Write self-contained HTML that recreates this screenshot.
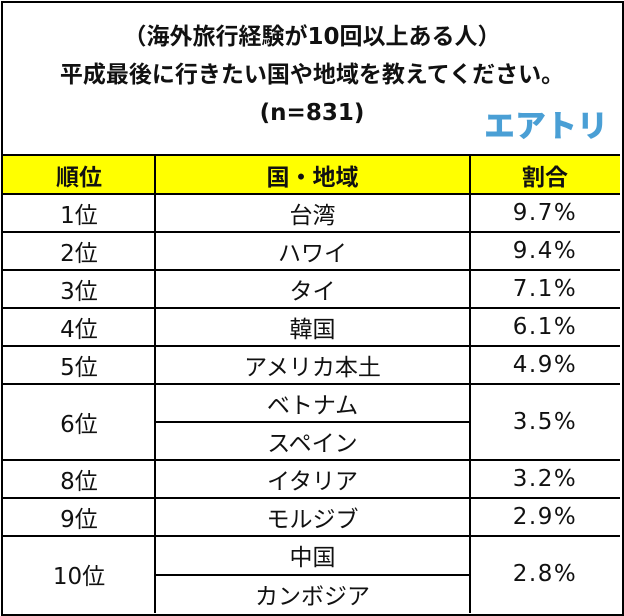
<!DOCTYPE html>
<html><head><meta charset="utf-8">
<style>
html,body{margin:0;padding:0;background:#fff;}
body{width:624px;height:616px;position:relative;overflow:hidden;font-family:"DejaVu Sans","Noto Sans CJK JP",sans-serif;color:#111;}
.frame{position:absolute;left:1px;top:1px;width:619px;height:611px;border:2px solid #000;}
.t{position:absolute;left:0;width:624px;text-align:center;font-weight:bold;font-size:23px;line-height:30px;}
.logo{position:absolute;left:484px;top:101px;font-size:31px;font-weight:900;color:#4a9fd5;letter-spacing:0px;font-family:"Noto Sans CJK JP",sans-serif;}
.c{position:absolute;display:flex;align-items:center;justify-content:center;font-size:23px;box-sizing:border-box;}
.s{letter-spacing:1.5px;}
.hl{position:absolute;background:#000;height:2px;}
.vl{position:absolute;background:#000;width:2px;}
</style></head><body>
<div class="frame"></div>
<div class="t" style="top:22px">（海外旅行経験が10回以上ある人）</div>
<div class="t" style="top:60px">平成最後に行きたい国や地域を教えてください。</div>
<div class="t" style="top:98px">(n=831)</div>
<div class="logo">エアトリ</div>
<div style="position:absolute;left:3px;top:155px;width:617px;height:38px;background:#ffff00"></div>
<div class="c" style="left:3px;top:155px;width:152px;height:39px;font-weight:bold">順位</div>
<div class="c" style="left:155px;top:155px;width:315px;height:39px;font-weight:bold">国・地域</div>
<div class="c" style="left:470px;top:155px;width:150px;height:39px;font-weight:bold">割合</div>
<div id="rows"></div>
<script>
const ranks=["1位","2位","3位","4位","5位","6位","8位","9位","10位"];
const countries=[["台湾"],["ハワイ"],["タイ"],["韓国"],["アメリカ本土"],["ベトナム","スペイン"],["イタリア"],["モルジブ"],["中国","カンボジア"]];
const shares=["9.7%","9.4%","7.1%","6.1%","4.9%","3.5%","3.2%","2.9%","2.8%"];
const root=document.getElementById('rows');
const RH=38.1, top0=193.5;
function line(cls,l,t,w,h){const d=document.createElement('div');d.className=cls;d.style.left=l+'px';d.style.top=t+'px';if(w)d.style.width=w+'px';if(h)d.style.height=h+'px';


root.appendChild(d);}
function cell(txt,l,t,w,h,name,extra){const d=document.createElement('div');d.className='c'+(extra||'');d.style.left=l+'px';d.style.top=t+'px';d.style.width=w+'px';d.style.height=h+'px';d.textContent=txt;


root.appendChild(d);}
line('hl',3,154,617);
line('vl',154,155,0,458);
line('vl',469,155,0,458);
let idx=0;
ranks.forEach((r,i)=>{
  const n=countries[i].length;
  const y=top0+idx*RH, h=n*RH;
  line('hl',3,Math.round(y)-1,617);
  cell(r,3,y,152,h,'rank-cell');
  cell(shares[i],470,y,150,h,'share-cell',' s');
  countries[i].forEach((c,j)=>{
    if(j>0) line('hl',155,Math.round(y+j*RH)-1,315);
    cell(c,155,y+j*RH,315,RH,'country-cell');
  });
  idx+=n;
});
</script>
</body></html>
